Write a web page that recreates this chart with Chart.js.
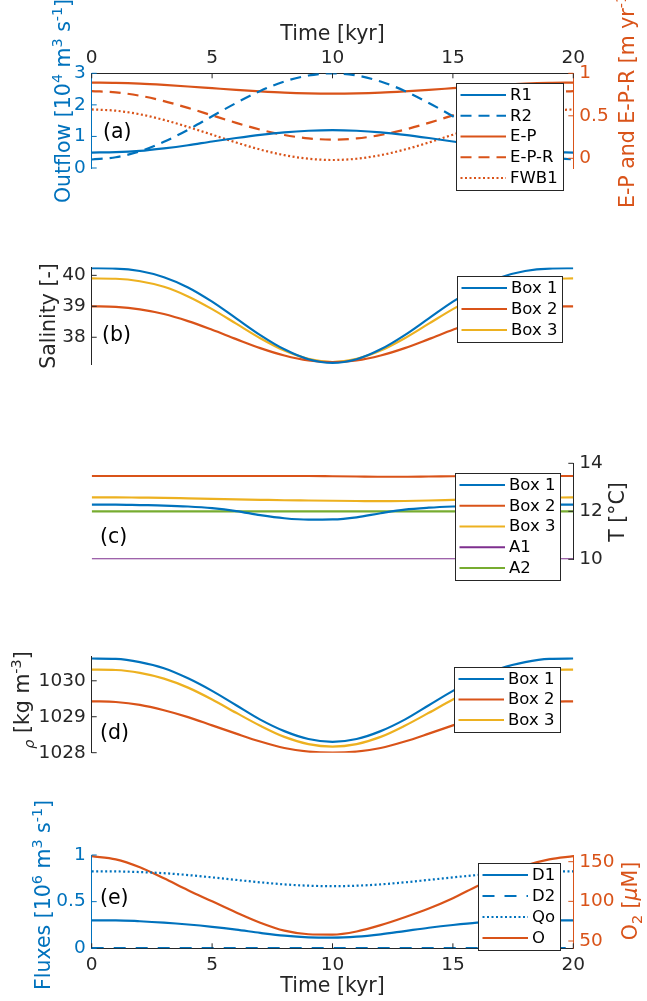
<!DOCTYPE html>
<html><head><meta charset="utf-8">
<script src="https://cdn.jsdelivr.net/npm/chart.js@4.4.0/dist/chart.umd.min.js"></script>
<style>
html,body{margin:0;padding:0;background:#fff;width:647px;height:1001px;overflow:hidden}
canvas{position:absolute;left:0;top:0}
</style></head><body>
<canvas id="ca" width="647" height="1001"></canvas>
<canvas id="cb" width="647" height="1001"></canvas>
<canvas id="cc" width="647" height="1001"></canvas>
<canvas id="cd" width="647" height="1001"></canvas>
<canvas id="ce" width="647" height="1001"></canvas>
<script>
// ---------------- data ----------------
const timeKyr = [0,1,2,3,4,5,6,7,8,9,10,11,12,13,14,15,16,17,18,19,20];
const xTicks = [0,5,10,15,20];

// (a) outflow [1e4 m3/s] (left) and rates [m/yr] (right)
const outflowR1 = [0.49,0.50,0.54,0.62,0.72,0.84,0.95,1.05,1.13,1.18,1.20,1.18,1.13,1.05,0.95,0.84,0.72,0.62,0.54,0.50,0.49];
const outflowR2 = [0.27,0.34,0.53,0.83,1.21,1.64,2.06,2.44,2.74,2.93,3.00,2.93,2.74,2.44,2.06,1.64,1.21,0.83,0.53,0.34,0.27];
const rateEP   = [0.89,0.887,0.878,0.863,0.845,0.825,0.805,0.787,0.772,0.763,0.76,0.763,0.772,0.787,0.805,0.825,0.845,0.863,0.878,0.887,0.89];
const rateEPR  = [0.79,0.776,0.736,0.673,0.593,0.505,0.417,0.337,0.274,0.234,0.22,0.234,0.274,0.337,0.417,0.505,0.593,0.673,0.736,0.776,0.79];
const rateFWB1 = [0.575,0.56,0.518,0.452,0.369,0.278,0.186,0.103,0.037,-0.005,-0.02,-0.005,0.037,0.103,0.186,0.278,0.369,0.452,0.518,0.56,0.575];
const outflowTicks = [0,1,2,3];
const rateTicks = [0,0.5,1];

// (b) salinity
const salBox1 = [40.23,40.22,40.14,39.94,39.61,39.15,38.61,38.07,37.61,37.29,37.17,37.29,37.61,38.07,38.61,39.15,39.61,39.94,40.14,40.22,40.23];
const salBox2 = [39.00,38.98,38.90,38.75,38.52,38.24,37.94,37.65,37.41,37.25,37.20,37.25,37.41,37.65,37.94,38.24,38.52,38.75,38.90,38.98,39.00];
const salBox3 = [39.90,39.89,39.81,39.63,39.32,38.91,38.44,37.97,37.57,37.30,37.20,37.30,37.57,37.97,38.44,38.91,39.32,39.63,39.81,39.89,39.90];
const salTicks = [38,39,40];

// (c) temperature
const tempBox1 = [12.28,12.28,12.26,12.24,12.20,12.13,12.01,11.84,11.71,11.65,11.66,11.75,11.92,12.07,12.15,12.20,12.23,12.25,12.27,12.28,12.28];
const tempBox2 = [13.47,13.47,13.47,13.47,13.47,13.47,13.47,13.47,13.47,13.47,13.46,13.45,13.44,13.44,13.45,13.46,13.47,13.47,13.47,13.47,13.47];
const tempBox3 = [12.58,12.58,12.57,12.56,12.54,12.52,12.50,12.48,12.46,12.45,12.44,12.43,12.42,12.43,12.45,12.48,12.51,12.54,12.56,12.57,12.58];
const tempA1 = [10,10,10,10,10,10,10,10,10,10,10,10,10,10,10,10,10,10,10,10,10];
const tempA2 = [12,12,12,12,12,12,12,12,12,12,12,12,12,12,12,12,12,12,12,12,12];
const tempTicks = [10,12,14];

// (d) density
const rhoBox1 = [1030.62,1030.61,1030.52,1030.35,1030.07,1029.72,1029.32,1028.92,1028.60,1028.38,1028.30,1028.38,1028.60,1028.92,1029.32,1029.72,1030.07,1030.35,1030.52,1030.61,1030.62];
const rhoBox2 = [1029.43,1029.41,1029.33,1029.18,1028.99,1028.76,1028.53,1028.31,1028.13,1028.03,1028.00,1028.03,1028.13,1028.31,1028.53,1028.76,1028.99,1029.18,1029.33,1029.41,1029.43];
const rhoBox3 = [1030.31,1030.30,1030.22,1030.06,1029.81,1029.48,1029.11,1028.75,1028.44,1028.24,1028.17,1028.24,1028.44,1028.75,1029.11,1029.48,1029.81,1030.06,1030.22,1030.30,1030.31];
const rhoTicks = [1028,1029,1030];

// (e) fluxes [1e6 m3/s] (left) and O2 [uM] (right)
const fluxD1 = [0.30,0.30,0.29,0.275,0.255,0.23,0.20,0.165,0.135,0.118,0.115,0.125,0.15,0.185,0.22,0.25,0.275,0.29,0.298,0.30,0.30];
const fluxD2 = [0.003,0.003,0.003,0.003,0.003,0.003,0.003,0.003,0.003,0.003,0.003,0.003,0.003,0.003,0.003,0.003,0.003,0.003,0.003,0.003,0.003];
const fluxQo = [0.825,0.824,0.817,0.805,0.785,0.760,0.733,0.707,0.685,0.671,0.666,0.671,0.685,0.707,0.733,0.760,0.785,0.805,0.817,0.824,0.825];
const oxygenO = [157,153,143,129,114,100,86,73,63,58.5,58,62,70,80,91,104,119,133,145,153,157];
const fluxTicks = [0,0.5,1];
const o2Ticks = [50,100,150];

// ---------------- styling / layout ----------------
const BLUE='#0072BD', ORANGE='#D95319', YELLOW='#EDB120', PURPLE='#7E2F8E', GREEN='#77AC30', DARK='#262626';
const FONT = "'DejaVu Sans', sans-serif";
const TICK_FS = 18.5, LABEL_FS = 20.5, LEG_FS = 16.5, LETTER_FS = 20.5;
Chart.defaults.font.family = FONT;
Chart.defaults.animation = false;
const W=647, H=1001, AREA_L=91.7, AREA_R=573.3, AX=40, AYL=80, AYR=60;
const LINE_W = 2.2;

function pts(ys){ return timeKyr.map((t,i)=>({x:t,y:ys[i]})); }
function fmt(v){ return String(v); }

function yScale(pos, min, max, ticks, color, show){
  return {type:'linear', position:pos, min, max,
    grid:{display:false, drawTicks:false},
    border:{display:show, color, width:1},
    ticks:{display:show, color, font:{size:TICK_FS}, padding:6, autoSkip:false, callback:fmt},
    afterBuildTicks:s=>{ s.ticks = ticks.map(v=>({value:v})); },
    afterFit:s=>{ s.width = pos==='left' ? AYL : AYR; }};
}
function xScale(pos, show){
  return {type:'linear', position:pos, min:0, max:20,
    grid:{display:false, drawTicks:false},
    border:{display:show, color:DARK, width:1},
    ticks:{display:show, color:DARK, font:{size:TICK_FS}, padding: pos==='top'?4:5.6, maxRotation:0, autoSkip:false, callback:fmt},
    afterBuildTicks:s=>{ s.ticks = xTicks.map(v=>({value:v})); },
    afterFit:s=>{ s.height = AX; }};
}
function ds(label, ys, axis, color, dash){
  return {label, data:pts(ys), yAxisID:axis, borderColor:color, backgroundColor:color,
    borderWidth:LINE_W, borderDash:dash||[], pointRadius:0, cubicInterpolationMode:'monotone', fill:false};
}
const DASH=[11,7], DOT=[2,2.5];

// draw text made of segments (normal / superscript / subscript / italic)
function drawRich(ctx, segs, x, y, color, size, rot){
  ctx.save();
  ctx.translate(x, y);
  if (rot) ctx.rotate(-Math.PI/2);
  ctx.fillStyle = color; ctx.textAlign = 'left'; ctx.textBaseline = 'alphabetic';
  const fontFor = s => (s.it ? 'italic ' : '') + ((s.sup || s.sub) ? size*0.7 : size) + 'px ' + FONT;
  let total = 0;
  segs.forEach(s => { ctx.font = fontFor(s); total += ctx.measureText(s.t).width; });
  let cx = -total/2;
  const base = size*0.36;
  segs.forEach(s => {
    ctx.font = fontFor(s);
    const dy = s.sup ? -size*0.42 : (s.sub ? size*0.22 : 0);
    ctx.fillText(s.t, cx, base + dy);
    cx += ctx.measureText(s.t).width;
  });
  ctx.restore();
}

function decor(cfg){
  return {id:'decor', afterDraw(chart){
    const ctx = chart.ctx;
    ctx.save();
    (cfg.ticks||[]).forEach(t=>{
      const s = chart.scales[t.id];
      ctx.strokeStyle = t.color; ctx.lineWidth = 1;
      s.ticks.forEach(tk=>{
        const p = s.getPixelForValue(tk.value);
        ctx.beginPath();
        if (t.side==='left'){ ctx.moveTo(s.right, p); ctx.lineTo(s.right+5, p); }
        else if (t.side==='right'){ ctx.moveTo(s.left, p); ctx.lineTo(s.left-5, p); }
        else if (t.side==='top'){ ctx.moveTo(p, s.bottom); ctx.lineTo(p, s.bottom+5); }
        else { ctx.moveTo(p, s.top); ctx.lineTo(p, s.top-5); }
        ctx.stroke();
      });
    });
    if (cfg.letter){
      ctx.fillStyle='#000'; ctx.font = LETTER_FS+'px '+FONT;
      ctx.textAlign='left'; ctx.textBaseline='middle';
      ctx.fillText(cfg.letter.text, cfg.letter.x, cfg.letter.y);
    }
    (cfg.titles||[]).forEach(t=> drawRich(ctx, t.segs, t.x, t.y, t.color, LABEL_FS, t.rot));
    if (cfg.legend){
      const L = cfg.legend, dsets = chart.data.datasets, n = dsets.length;
      ctx.fillStyle='#fff'; ctx.fillRect(L.x, L.y, L.w, L.h);
      ctx.strokeStyle=DARK; ctx.lineWidth=1; ctx.setLineDash([]);
      ctx.strokeRect(L.x+0.5, L.y+0.5, L.w, L.h);
      const step = (L.h-24)/(n-1);
      dsets.forEach((d,i)=>{
        const cy = L.y + 12 + i*step;
        ctx.strokeStyle=d.borderColor; ctx.lineWidth=d.borderWidth;
        ctx.setLineDash(d.borderDash||[]);
        ctx.beginPath(); ctx.moveTo(L.x+4.5, cy); ctx.lineTo(L.x+50, cy); ctx.stroke();
        ctx.setLineDash([]);
        ctx.fillStyle='#000'; ctx.font = LEG_FS+'px '+FONT;
        ctx.textAlign='left'; ctx.textBaseline='middle';
        ctx.fillText(d.label, L.x+54, cy+0.5);
      });
    }
    ctx.restore();
  }};
}

function panel(id, top, bottom, xPos, datasets, scales, cfg){
  const xTopH = xPos==='top' ? AX : 0, xBotH = xPos==='top' ? 0 : AX;
  return new Chart(document.getElementById(id), {
    type:'line',
    data:{datasets},
    options:{
      responsive:false, animation:false, devicePixelRatio:1,
      layout:{padding:{left:AREA_L-AYL, right:W-AREA_R-AYR, top:top-xTopH, bottom:H-bottom-xBotH}},
      plugins:{legend:{display:false}, tooltip:{enabled:false}},
      scales
    },
    plugins:[decor(cfg)]
  });
}

// (a)
panel('ca', 73.3, 168, 'top', [
  ds('R1', outflowR1, 'y', BLUE),
  ds('R2', outflowR2, 'y', BLUE, DASH),
  ds('E-P', rateEP, 'y2', ORANGE),
  ds('E-P-R', rateEPR, 'y2', ORANGE, DASH),
  ds('FWB1', rateFWB1, 'y2', ORANGE, DOT)
], {
  x: xScale('top', true),
  y: yScale('left', 0, 3, outflowTicks, BLUE, true),
  y2: yScale('right', -0.114, 1, rateTicks, ORANGE, true)
}, {
  ticks:[{id:'x',side:'top',color:DARK},{id:'y',side:'left',color:BLUE},{id:'y2',side:'right',color:ORANGE}],
  letter:{text:'(a)', x:103, y:133},
  titles:[
    {segs:[{t:'Time [kyr]'}], x:332.5, y:33, color:DARK},
    {segs:[{t:'Outflow [10'},{t:'4',sup:true},{t:' m'},{t:'3',sup:true},{t:' s'},{t:'-1',sup:true},{t:']'}], x:63, y:101, color:BLUE, rot:true},
    {segs:[{t:'E-P and E-P-R [m yr'},{t:'-1',sup:true},{t:']'}], x:627, y:97, color:ORANGE, rot:true}
  ],
  legend:{x:456, y:83, w:107, h:107}
});

// (b)
panel('cb', 267.3, 364.5, 'bottom', [
  ds('Box 1', salBox1, 'y', BLUE),
  ds('Box 2', salBox2, 'y', ORANGE),
  ds('Box 3', salBox3, 'y', YELLOW)
], {
  x: xScale('bottom', false),
  y: yScale('left', 37.12, 40.26, salTicks, DARK, true),
  y2: yScale('right', 0, 1, [], DARK, false)
}, {
  ticks:[{id:'y',side:'left',color:DARK}],
  letter:{text:'(b)', x:102, y:336},
  titles:[{segs:[{t:'Salinity [-]'}], x:48, y:316, color:DARK, rot:true}],
  legend:{x:457, y:276, w:105, h:66}
});

// (c)
panel('cc', 463.3, 559.3, 'bottom', [
  ds('Box 1', tempBox1, 'y2', BLUE),
  ds('Box 2', tempBox2, 'y2', ORANGE),
  ds('Box 3', tempBox3, 'y2', YELLOW),
  ds('A1', tempA1, 'y2', PURPLE),
  ds('A2', tempA2, 'y2', GREEN)
], {
  x: xScale('bottom', false),
  y: yScale('left', 0, 1, [], DARK, false),
  y2: yScale('right', 10, 14, tempTicks, DARK, true)
}, {
  ticks:[{id:'y2',side:'right',color:DARK}],
  letter:{text:'(c)', x:100, y:538},
  titles:[{segs:[{t:'T [°C]'}], x:617, y:512, color:DARK, rot:true}],
  legend:{x:455, y:473, w:105, h:107}
});

// (d)
panel('cd', 656.7, 752.7, 'bottom', [
  ds('Box 1', rhoBox1, 'y', BLUE),
  ds('Box 2', rhoBox2, 'y', ORANGE),
  ds('Box 3', rhoBox3, 'y', YELLOW)
], {
  x: xScale('bottom', false),
  y: yScale('left', 1028, 1030.67, rhoTicks, DARK, true),
  y2: yScale('right', 0, 1, [], DARK, false)
}, {
  ticks:[{id:'y',side:'left',color:DARK}],
  letter:{text:'(d)', x:100, y:734},
  titles:[{segs:[{t:'ρ',it:true,sub:true},{t:' [kg m'},{t:'-3',sup:true},{t:']'}], x:22, y:700, color:DARK, rot:true}],
  legend:{x:454, y:667, w:106, h:65}
});

// (e)
panel('ce', 855, 948.3, 'bottom', [
  ds('D1', fluxD1, 'y', BLUE),
  ds('D2', fluxD2, 'y', BLUE, [12,10]),
  ds('Qo', fluxQo, 'y', BLUE, DOT),
  ds('O', oxygenO, 'y2', ORANGE)
], {
  x: xScale('bottom', true),
  y: yScale('left', 0, 1, fluxTicks, BLUE, true),
  y2: yScale('right', 40.8, 158.45, o2Ticks, ORANGE, true)
}, {
  ticks:[{id:'x',side:'bottom',color:DARK},{id:'y',side:'left',color:BLUE},{id:'y2',side:'right',color:ORANGE}],
  letter:{text:'(e)', x:100, y:899},
  titles:[
    {segs:[{t:'Time [kyr]'}], x:332.5, y:985, color:DARK},
    {segs:[{t:'Fluxes [10'},{t:'6',sup:true},{t:' m'},{t:'3',sup:true},{t:' s'},{t:'-1',sup:true},{t:']'}], x:43, y:895, color:BLUE, rot:true},
    {segs:[{t:'O'},{t:'2',sub:true},{t:' ['},{t:'μ',it:true},{t:'M]'}], x:630, y:901, color:ORANGE, rot:true}
  ],
  legend:{x:478, y:863, w:82, h:87}
});
</script>
</body></html>
